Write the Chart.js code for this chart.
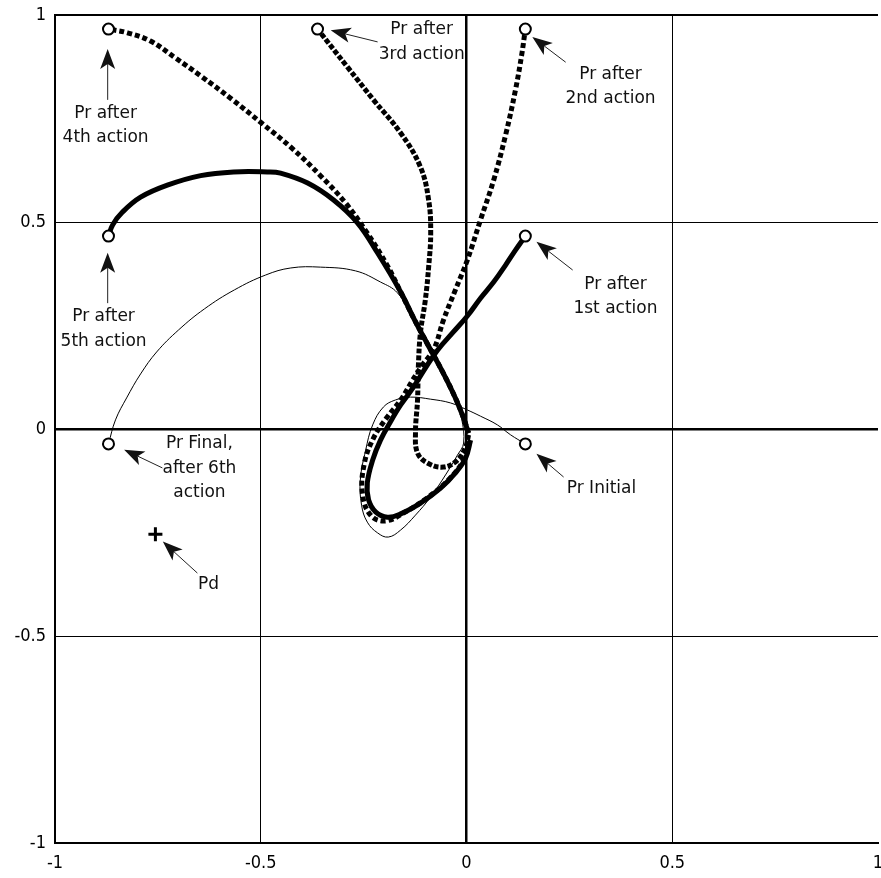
<!DOCTYPE html>
<html>
<head>
<meta charset="utf-8">
<script src="https://cdn.jsdelivr.net/npm/chart.js@4.4.1/dist/chart.umd.min.js"></script>
<style>
  html, body { margin: 0; padding: 0; background: #fff; overflow: hidden; }
  canvas { display: block; }
</style>
</head>
<body>
<canvas id="chart" width="881" height="878"></canvas>
<script>
// Path of Pr during each action, as [x, y] pairs, starting near the origin.
const pathFirst = [[0.010,-0.027],[-0.002,-0.070],[-0.027,-0.106],[-0.063,-0.143],[-0.112,-0.179],[-0.160,-0.205],[-0.192,-0.213],[-0.221,-0.200],[-0.238,-0.171],[-0.241,-0.130],[-0.228,-0.075],[-0.209,-0.027],[-0.185,0.017],[-0.160,0.058],[-0.129,0.101],[-0.100,0.147],[-0.070,0.191],[-0.034,0.232],[0.002,0.273],[0.034,0.316],[0.066,0.355],[0.095,0.396],[0.119,0.432],[0.143,0.466]];
const pathSecond = [[0.007,-0.031],[-0.010,-0.080],[-0.044,-0.123],[-0.092,-0.164],[-0.148,-0.200],[-0.197,-0.222],[-0.233,-0.208],[-0.253,-0.155],[-0.248,-0.082],[-0.226,-0.022],[-0.194,0.027],[-0.160,0.070],[-0.131,0.118],[-0.107,0.155],[-0.080,0.191],[-0.056,0.263],[-0.027,0.336],[0.002,0.408],[0.034,0.505],[0.066,0.601],[0.095,0.710],[0.119,0.819],[0.134,0.903],[0.143,0.966]];
const pathThird = [[0.005,-0.014],[-0.002,-0.043],[-0.022,-0.075],[-0.056,-0.092],[-0.095,-0.082],[-0.119,-0.058],[-0.124,-0.010],[-0.119,0.070],[-0.117,0.150],[-0.112,0.232],[-0.100,0.312],[-0.092,0.391],[-0.087,0.473],[-0.092,0.553],[-0.112,0.633],[-0.160,0.715],[-0.226,0.795],[-0.289,0.874],[-0.362,0.966]];
const pathFourth = [[0.005,-0.010],[-0.007,0.026],[-0.027,0.075],[-0.058,0.138],[-0.092,0.200],[-0.126,0.263],[-0.160,0.331],[-0.192,0.394],[-0.241,0.473],[-0.294,0.546],[-0.355,0.612],[-0.425,0.679],[-0.498,0.739],[-0.571,0.797],[-0.646,0.853],[-0.707,0.896],[-0.768,0.937],[-0.824,0.957],[-0.870,0.966]];
const pathFifth = [[0.005,-0.010],[-0.007,0.026],[-0.027,0.075],[-0.058,0.138],[-0.092,0.200],[-0.126,0.263],[-0.160,0.331],[-0.216,0.425],[-0.265,0.498],[-0.323,0.553],[-0.386,0.594],[-0.452,0.618],[-0.484,0.621],[-0.566,0.621],[-0.646,0.612],[-0.727,0.589],[-0.792,0.560],[-0.836,0.524],[-0.860,0.493],[-0.870,0.466]];
// Thin path from the initial to the final position.
const pathOverall = [[0.143,-0.036],[0.107,-0.014],[0.075,0.010],[0.034,0.031],[0.002,0.046],[-0.039,0.063],[-0.087,0.072],[-0.136,0.077],[-0.173,0.070],[-0.202,0.053],[-0.228,0.010],[-0.245,-0.051],[-0.258,-0.123],[-0.255,-0.184],[-0.241,-0.225],[-0.216,-0.251],[-0.190,-0.261],[-0.160,-0.244],[-0.124,-0.208],[-0.087,-0.164],[-0.051,-0.111],[-0.022,-0.063],[-0.007,-0.034],[-0.012,0.026],[-0.027,0.075],[-0.058,0.138],[-0.092,0.200],[-0.126,0.263],[-0.168,0.329],[-0.209,0.355],[-0.270,0.382],[-0.355,0.391],[-0.427,0.389],[-0.488,0.372],[-0.564,0.336],[-0.637,0.290],[-0.700,0.239],[-0.753,0.186],[-0.792,0.133],[-0.826,0.075],[-0.853,0.022],[-0.870,-0.036]];

// Pr positions: initial, after each action, final.
const positionNames = ['Pr Initial', 'Pr after 1st action', 'Pr after 2nd action', 'Pr after 3rd action', 'Pr after 4th action', 'Pr after 5th action', 'Pr Final'];
const positionX = [0.143, 0.143, 0.143, -0.362, -0.870, -0.870, -0.870];
const positionY = [-0.036, 0.466, 0.966, 0.966, 0.966, 0.466, -0.036];
// Desired position Pd.
const pdX = [-0.756];
const pdY = [-0.254];

const axisTicks = [-1, -0.5, 0, 0.5, 1];

// Callout texts with their arrows (data coordinates).
const callouts = [
  { lines: ['Pr after', '4th action'], text: [-0.877, 0.763], tail: [-0.872, 0.795], tip: [-0.872, 0.918] },
  { lines: ['Pr after', '5th action'], text: [-0.882, 0.271], tail: [-0.872, 0.304], tip: [-0.872, 0.426] },
  { lines: ['Pr after', '3rd action'], text: [-0.109, 0.964], tail: [-0.216, 0.935], tip: [-0.330, 0.963] },
  { lines: ['Pr after', '2nd action'], text: [0.350, 0.857], tail: [0.241, 0.886], tip: [0.160, 0.947] },
  { lines: ['Pr after', '1st action'], text: [0.362, 0.350], tail: [0.258, 0.384], tip: [0.170, 0.452] },
  { lines: ['Pr Initial'], text: [0.328, -0.145], tail: [0.236, -0.116], tip: [0.170, -0.060] },
  { lines: ['Pr Final,', 'after 6th', 'action'], text: [-0.649, -0.036], tail: [-0.739, -0.094], tip: [-0.832, -0.050] },
  { lines: ['Pd'], text: [-0.627, -0.377], tail: [-0.654, -0.348], tip: [-0.738, -0.272] }
];

const toXY = arr => arr.map(([x, y]) => ({ x, y }));
const zip = (xs, ys) => xs.map((x, i) => ({ x, y: ys[i] }));

const thick = (data, dash) => ({
  data: toXY(data), showLine: true, borderColor: '#000', borderWidth: 5,
  borderDash: dash, pointRadius: 0, tension: 0.4, borderCapStyle: 'butt'
});

const calloutPlugin = {
  id: 'callouts',
  afterDatasetsDraw(chart) {
    const { ctx, scales: { x, y } } = chart;
    ctx.save();
    ctx.fillStyle = '#111';
    ctx.strokeStyle = '#222';
    callouts.forEach(c => {
      const tx = x.getPixelForValue(c.tail[0]), ty = y.getPixelForValue(c.tail[1]);
      const hx = x.getPixelForValue(c.tip[0]), hy = y.getPixelForValue(c.tip[1]);
      const ang = Math.atan2(hy - ty, hx - tx);
      const dx = Math.cos(ang), dy = Math.sin(ang);
      const L = 20, W = 7.5, N = 5;
      ctx.lineWidth = 1;
      ctx.beginPath();
      ctx.moveTo(tx, ty);
      ctx.lineTo(hx - dx * (L - N), hy - dy * (L - N));
      ctx.stroke();
      ctx.beginPath();
      ctx.moveTo(hx, hy);
      ctx.lineTo(hx - dx * L - dy * W, hy - dy * L + dx * W);
      ctx.lineTo(hx - dx * (L - N), hy - dy * (L - N));
      ctx.lineTo(hx - dx * L + dy * W, hy - dy * L - dx * W);
      ctx.closePath();
      ctx.fill();

      ctx.font = '17px "DejaVu Sans", sans-serif';
      ctx.textAlign = 'center';
      ctx.textBaseline = 'middle';
      const cx = x.getPixelForValue(c.text[0]);
      const cy = y.getPixelForValue(c.text[1]);
      c.lines.forEach((line, i) => ctx.fillText(line, cx, cy + i * 24.5));
    });
    ctx.restore();
  }
};

const tickFont = { family: '"Liberation Sans Narrow", "DejaVu Sans Condensed", "Arial Narrow", sans-serif', size: 18 };
const tickLabel = v => String(v);

new Chart(document.getElementById('chart'), {
  type: 'scatter',
  data: {
    datasets: [
      {
        label: 'Pd', data: zip(pdX, pdY), pointStyle: 'cross', pointRadius: 7,
        borderColor: '#000', borderWidth: 3, showLine: false
      },
      {
        label: 'Pr', data: zip(positionX, positionY), pointStyle: 'circle', pointRadius: 5.5,
        borderColor: '#000', backgroundColor: '#fff', borderWidth: 2, showLine: false
      },
      thick(pathFirst, []),
      thick(pathSecond, [5, 3]),
      thick(pathThird, [5, 2]),
      thick(pathFourth, [5, 3]),
      thick(pathFifth, []),
      {
        data: toXY(pathOverall), showLine: true, borderColor: '#000', borderWidth: 1,
        pointRadius: 0, tension: 0.4
      }
    ]
  },
  options: {
    responsive: false,
    animation: false,
    events: [],
    // the plot frame runs on to the right edge of the page
    layout: { autoPadding: false, padding: { top: 15, right: 3, left: 0, bottom: 0 } },
    plugins: { legend: { display: false }, tooltip: { enabled: false } },
    scales: {
      x: {
        type: 'linear', min: -1, max: 1,
        afterBuildTicks: s => { s.ticks = axisTicks.map(v => ({ value: v })); },
        afterFit: s => { s.height = 35; s.paddingLeft = 0; s.paddingRight = 0; },
        ticks: { color: '#000', font: tickFont, padding: 10, maxRotation: 0, autoSkip: false, callback: tickLabel },
        grid: {
          drawTicks: false,
          color: c => (c.tick && c.tick.value === 1) ? 'rgba(0,0,0,0)' : '#000',
          lineWidth: c => (c.tick && c.tick.value === 0) ? 2.5 : 1
        },
        border: { display: true, color: '#000', width: 2 }
      },
      y: {
        type: 'linear', min: -1, max: 1,
        afterBuildTicks: s => { s.ticks = axisTicks.map(v => ({ value: v })); },
        afterFit: s => { s.width = 55; s.paddingTop = 0; s.paddingBottom = 0; },
        ticks: { color: '#000', font: tickFont, padding: 9, autoSkip: false, callback: tickLabel },
        grid: {
          drawTicks: false,
          color: '#000',
          lineWidth: c => (c.tick && c.tick.value === 0) ? 2.5 : (c.tick && c.tick.value === 1) ? 2 : 1
        },
        border: { display: true, color: '#000', width: 2 }
      }
    }
  },
  plugins: [calloutPlugin]
});
</script>
</body>
</html>
